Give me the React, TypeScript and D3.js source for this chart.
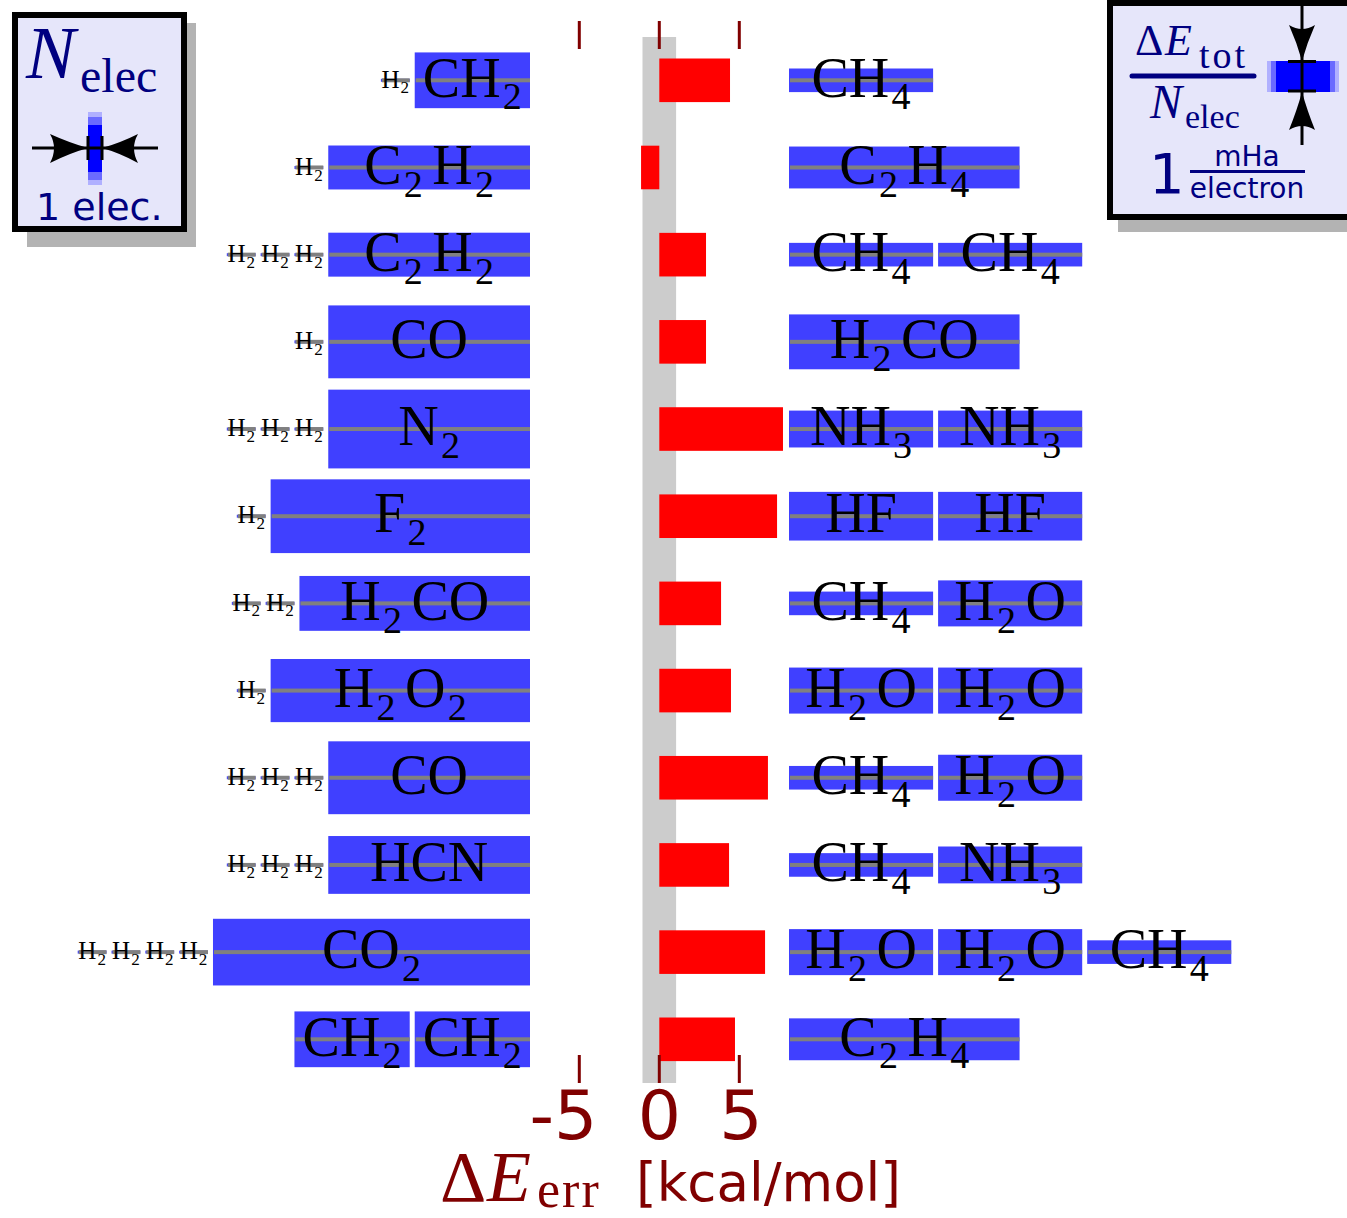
import React from 'react';
import * as d3 from 'd3';

// ---------- data ----------
const moleculeNames = ['H2', 'CH2', 'C2H2', 'CO', 'N2', 'F2', 'H2CO', 'H2O2', 'HCN', 'CO2', 'CH4', 'C2H4', 'NH3', 'HF', 'H2O'];
const moleculeElectrons = [2, 8, 14, 14, 14, 18, 16, 18, 14, 22, 10, 16, 10, 10, 10];
// Delta E_tot / N_elec in mHa per electron
const moleculeEnergyPerElectron = [0.1, 1.89, 1.49, 2.47, 2.67, 2.5, 1.86, 2.14, 1.96, 2.26, 0.8, 1.42, 1.25, 1.65, 1.56];

const reactants: string[][] = [
  ['H2', 'CH2'],
  ['H2', 'C2H2'],
  ['H2', 'H2', 'H2', 'C2H2'],
  ['H2', 'CO'],
  ['H2', 'H2', 'H2', 'N2'],
  ['H2', 'F2'],
  ['H2', 'H2', 'H2CO'],
  ['H2', 'H2O2'],
  ['H2', 'H2', 'H2', 'CO'],
  ['H2', 'H2', 'H2', 'HCN'],
  ['H2', 'H2', 'H2', 'H2', 'CO2'],
  ['CH2', 'CH2'],
];
const products: string[][] = [
  ['CH4'],
  ['C2H4'],
  ['CH4', 'CH4'],
  ['H2CO'],
  ['NH3', 'NH3'],
  ['HF', 'HF'],
  ['CH4', 'H2O'],
  ['H2O', 'H2O'],
  ['CH4', 'H2O'],
  ['CH4', 'NH3'],
  ['H2O', 'H2O', 'CH4'],
  ['C2H4'],
];
// Delta E_err in kcal/mol
const errors = [4.42, -1.14, 2.92, 2.92, 7.73, 7.36, 3.86, 4.48, 6.79, 4.36, 6.61, 4.73];
const xTicks = [-5, 0, 5];
const chemicalAccuracy = 1.05;

// ---------- layout ----------
const W = 1347;
const H = 1218;
const rowIdx = d3.range(errors.length);
const yRow = d3.scalePoint<number>().domain(rowIdx).range([80.3, 1039.3]);
const xErr = d3.scaleLinear().domain([-5, 5]).range([579.3, 739.3]);
const wScale = d3.scaleLinear().domain([0, 1]).range([0, 14.41]); // px per electron
const hScale = d3.scaleLinear().domain([0, 1]).range([0, 29.5]); // px per mHa/electron
const leftEdge = 530;
const rightStart = 789;
const gap = 5;
const barH = 43.6;

const SERIF = '"Liberation Serif", "DejaVu Serif", serif';
const SANS = '"DejaVu Sans", sans-serif';
const NAVY = '#000080';
const DARKRED = '#800000';
const BLUE = '#4040ff';

function molInfo(name: string) {
  const i = moleculeNames.indexOf(name);
  return { n: moleculeElectrons[i], e: moleculeEnergyPerElectron[i] };
}

function Formula({ name, cx, cy, fs }: { name: string; cx: number; cy: number; fs: number }) {
  const parts = [...name.matchAll(/([A-Z][a-z]?)(\d*)/g)];
  const subFs = fs * 0.68;
  const shift = fs * 0.23;
  const kids: any[] = [];
  parts.forEach((p, i) => {
    const prevSub = i > 0 && parts[i - 1][2];
    kids.push(
      <tspan key={'e' + i} dx={prevSub ? fs * 0.17 : 0} dy={prevSub ? -shift : 0} fontSize={fs}>
        {p[1]}
      </tspan>
    );
    if (p[2]) {
      kids.push(
        <tspan key={'s' + i} dx={fs * 0.04} dy={shift} fontSize={subFs}>
          {p[2]}
        </tspan>
      );
    }
  });
  return (
    <text x={cx} y={cy + fs * 0.29} textAnchor="middle" fontFamily={SERIF} fill="#000">
      {kids}
    </text>
  );
}

function Block({ name, x, cy }: { name: string; x: number; cy: number }) {
  const { n, e } = molInfo(name);
  const w = wScale(n);
  const h = Math.max(hScale(e), 2);
  const fs = Math.min(56, w * 0.87);
  return (
    <g>
      <rect x={x} y={cy - h / 2} width={w} height={h} fill={BLUE} />
      <rect x={x + 1} y={cy - 2} width={w - 1} height={4} fill="#808080" />
      <Formula name={name} cx={x + w / 2} cy={cy} fs={fs} />
    </g>
  );
}

function layoutLeft(list: string[]) {
  const out: { name: string; x: number }[] = [];
  let right = leftEdge;
  for (let i = list.length - 1; i >= 0; i--) {
    const w = wScale(molInfo(list[i]).n);
    out.push({ name: list[i], x: right - w });
    right = right - w - gap;
  }
  return out;
}

function layoutRight(list: string[]) {
  const out: { name: string; x: number }[] = [];
  let left = rightStart;
  list.forEach((m) => {
    const w = wScale(molInfo(m).n);
    out.push({ name: m, x: left });
    left += w + gap;
  });
  return out;
}

export default function App() {
  const bandTop = 37;
  const bandBottom = 1083;
  return (
    <div style={{ position: 'absolute', left: 0, top: 0 }}>
      <svg width={W} height={H} style={{ display: 'block', background: '#fff' }}>
        {/* chemical accuracy band */}
        <rect
          x={xErr(-chemicalAccuracy)}
          y={bandTop}
          width={xErr(chemicalAccuracy) - xErr(-chemicalAccuracy)}
          height={bandBottom - bandTop}
          fill="#cccccc"
        />
        {/* error bars */}
        {rowIdx.map((i) => {
          const cy = yRow(i)!;
          const x0 = xErr(0);
          const x1 = xErr(errors[i]);
          return (
            <rect key={'err' + i} x={Math.min(x0, x1)} y={cy - barH / 2} width={Math.abs(x1 - x0)} height={barH} fill="#ff0000" />
          );
        })}
        {/* ticks */}
        {xTicks.map((t) => (
          <g key={'t' + t}>
            <line x1={xErr(t)} x2={xErr(t)} y1={21} y2={49} stroke={DARKRED} strokeWidth={3} />
            <line x1={xErr(t)} x2={xErr(t)} y1={1055} y2={1083} stroke={DARKRED} strokeWidth={3} />
            <text
              x={t < 0 ? xErr(t) + 18 : xErr(t) + (t > 0 ? 1.5 : 0)}
              y={1139}
              textAnchor={t < 0 ? 'end' : 'middle'}
              fontFamily={SANS}
              fontSize={68}
              fill={DARKRED}
            >
              {t < 0 ? '-' + Math.abs(t) : String(t)}
            </text>
          </g>
        ))}
        {/* axis title */}
        <text x={440} y={1201} fontFamily={SERIF} fontSize={72} fill={DARKRED}>Δ</text>
        <text x={487} y={1201} fontFamily={SERIF} fontStyle="italic" fontSize={72} fill={DARKRED}>E</text>
        <text x={537} y={1207} fontFamily={SERIF} fontSize={52} fill={DARKRED} letterSpacing={2}>err</text>
        <text x={636} y={1201} fontFamily={SANS} fontSize={53} fill={DARKRED}>[kcal/mol]</text>

        {/* molecule blocks */}
        {rowIdx.map((i) => {
          const cy = yRow(i)!;
          return (
            <g key={'row' + i}>
              {layoutLeft(reactants[i]).map((b, j) => (
                <Block key={'l' + j} name={b.name} x={b.x} cy={cy} />
              ))}
              {layoutRight(products[i]).map((b, j) => (
                <Block key={'r' + j} name={b.name} x={b.x} cy={cy} />
              ))}
            </g>
          );
        })}

        {/* left legend */}
        <rect x={27} y={23} width={169} height={224} fill="#b3b3b3" />
        <rect x={15} y={15} width={169} height={214} fill="#e6e6fa" stroke="#000" strokeWidth={6} />
        <text x={26} y={78} fontFamily={SERIF} fontStyle="italic" fontSize={74} fill={NAVY}>N</text>
        <text x={80} y={92} fontFamily={SERIF} fontSize={48} fill={NAVY}>elec</text>
        <rect x={88} y={112} width={14} height={73} fill="#b0b0ff" />
        <rect x={88} y={117} width={14} height={63} fill="#6a6aff" />
        <rect x={88} y={125} width={14} height={47} fill="#0000ff" />
        <line x1={32} x2={158} y1={148} y2={148} stroke="#000" strokeWidth={3} />
        <path d="M88 148 Q70 143 50 134 Q58 148 50 163 Q70 153 88 148Z" fill="#000" />
        <path d="M102 148 Q120 143 138 134 Q130 148 138 163 Q120 153 102 148Z" fill="#000" />
        <line x1={88} x2={88} y1={136} y2={160} stroke="#000" strokeWidth={3} />
        <line x1={102} x2={102} y1={136} y2={160} stroke="#000" strokeWidth={3} />
        <text x={36} y={220} fontFamily={SANS} fontSize={38} fill={NAVY}>1 elec.</text>

        {/* right legend */}
        <rect x={1118} y={12} width={300} height={220} fill="#b3b3b3" />
        <rect x={1110} y={3} width={300} height={214} fill="#e6e6fa" stroke="#000" strokeWidth={6} />
        <text x={1135} y={55} fontFamily={SERIF} fontSize={44} fill={NAVY}>Δ</text>
        <text x={1165} y={55} fontFamily={SERIF} fontStyle="italic" fontSize={44} fill={NAVY}>E</text>
        <text x={1199} y={68} fontFamily={SERIF} fontSize={38} fill={NAVY} letterSpacing={3}>tot</text>
        <line x1={1132} x2={1254} y1={76} y2={76} stroke={NAVY} strokeWidth={5} strokeLinecap="round" />
        <text x={1150} y={118} fontFamily={SERIF} fontStyle="italic" fontSize={48} fill={NAVY}>N</text>
        <text x={1185} y={128} fontFamily={SERIF} fontSize={34} fill={NAVY}>elec</text>
        <text x={1149} y={193} fontFamily={SANS} fontSize={56} fill={NAVY}>1</text>
        <text x={1247} y={166} textAnchor="middle" fontFamily={SANS} fontSize={28} fill={NAVY}>mHa</text>
        <line x1={1190} x2={1305} y1={171.5} y2={171.5} stroke={NAVY} strokeWidth={3} />
        <text x={1247} y={198} textAnchor="middle" fontFamily={SANS} fontSize={28} fill={NAVY}>electron</text>
        <rect x={1267} y={61} width={72} height={31} fill="#b0b0ff" />
        <rect x={1271} y={61} width={64} height={31} fill="#6a6aff" />
        <rect x={1276} y={61} width={54} height={31} fill="#0000ff" />
        <line x1={1302} x2={1302} y1={5} y2={145} stroke="#000" strokeWidth={3} />
        <path d="M1302 61 Q1297 43 1289 25 Q1302 33 1315 25 Q1307 43 1302 61Z" fill="#000" />
        <path d="M1302 92 Q1297 110 1289 130 Q1302 122 1315 130 Q1307 110 1302 92Z" fill="#000" />
        <line x1={1288} x2={1316} y1={61.5} y2={61.5} stroke="#000" strokeWidth={3} />
        <line x1={1288} x2={1316} y1={91} y2={91} stroke="#000" strokeWidth={3} />
      </svg>
    </div>
  );
}
